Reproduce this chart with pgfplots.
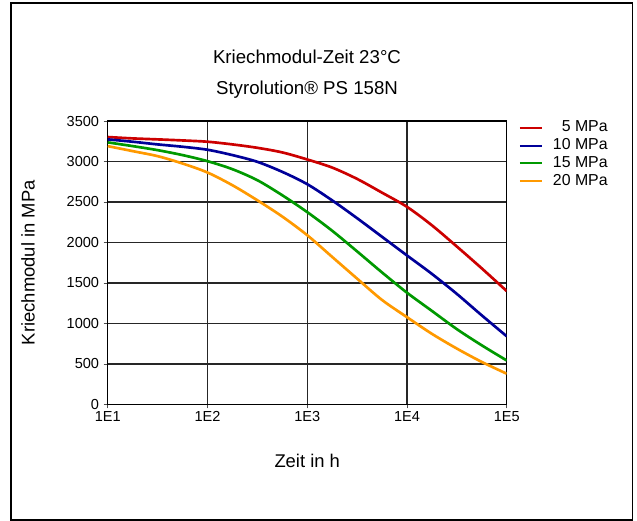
\documentclass[border=0pt]{standalone}
\usepackage{pgfplots}
\pgfplotsset{compat=1.18}
\usepackage{fontspec}
\setmainfont{Liberation Sans}
\definecolor{cred}{RGB}{204,0,0}
\definecolor{cblue}{RGB}{0,0,153}
\definecolor{cgreen}{RGB}{0,153,0}
\definecolor{corange}{RGB}{255,153,0}
\begin{document}
\begin{tikzpicture}
\useasboundingbox (0,0) rectangle (477.75pt,390.75pt);
\draw[line width=1.1pt] (8.25pt,0.75pt) rectangle (474.5pt,388.5pt);
\node[font=\fontsize{14}{17}\selectfont] at (230.25pt,348pt) {Kriechmodul-Zeit 23°C};
\node[font=\fontsize{14}{17}\selectfont] at (230.25pt,323.25pt) {Styrolution® PS 158N};
\begin{axis}[
  at={(80.8pt,87.4pt)}, anchor=south west,
  scale only axis, width=299.25pt, height=212.6pt,
  xmode=log, xmin=10, xmax=100000,
  ymin=0, ymax=3500,
  xtick={10,100,1000,10000,100000},
  xticklabels={1E1,1E2,1E3,1E4,1E5},
  xminorticks=false,
  ytick={0,500,1000,1500,2000,2500,3000,3500},
  /pgf/number format/assume math mode=true,
  /pgf/number format/1000 sep={},
  tick label style={font=\fontsize{10.9}{13}\selectfont},
  tick align=outside, tick pos=left,
  major tick length=3pt,
  every tick/.style={black!70, line width=0.6pt},
  grid=major,
  major grid style={black!85, line width=0.9pt},
  axis line style={black, line width=0.9pt},
  xlabel={Zeit in h}, ylabel={Kriechmodul in MPa},
  label style={font=\fontsize{13.8}{16}\selectfont},
  xlabel style={at={(axis description cs:0.5,-0.1993)}, anchor=center},
  ylabel style={at={(axis description cs:-0.1997,0.5)}, anchor=center},
  xticklabel style={yshift=1.2pt},
  legend cell align=right,
  legend style={at={(axis description cs:1.03,1.005)}, anchor=north west,
    draw=none, fill=none, font=\fontsize{11.9}{13}\selectfont,
    row sep=1.2pt, inner sep=0pt,
    nodes={inner sep=1.5pt, text height=7.6pt, text depth=1.5pt}},
  legend image code/.code={\draw[#1] plot coordinates {(0pt,0pt) (16.5pt,0pt)}; \path (22.5pt,0pt);},
  legend image post style={line width=1.5pt, sharp plot},
]
\addplot[cred, line width=2pt, smooth] coordinates {
(10,3302) (17.78,3285) (31.62,3273) (56.23,3260) (100,3244) (177.8,3211) (316.2,3169) (562.3,3112) (1000,3025) (1778,2925) (3162,2785) (5623,2615) (10000,2440) (17783,2212) (31623,1950) (56234,1680) (100000,1400)};
\addlegendentry{5 MPa}
\addplot[cblue, line width=2pt, smooth] coordinates {
(10,3273) (17.78,3244) (31.62,3211) (56.23,3182) (100,3145) (177.8,3079) (316.2,2996) (562.3,2872) (1000,2720) (1778,2520) (3162,2300) (5623,2070) (10000,1840) (17783,1612) (31623,1365) (56234,1100) (100000,842)};
\addlegendentry{10 MPa}
\addplot[cgreen, line width=2pt, smooth] coordinates {
(10,3236) (17.78,3190) (31.62,3140) (56.23,3079) (100,3004) (177.8,2905) (316.2,2769) (562.3,2583) (1000,2375) (1778,2145) (3162,1890) (5623,1630) (10000,1380) (17783,1155) (31623,930) (56234,730) (100000,543)};
\addlegendentry{15 MPa}
\addplot[corange, line width=2pt, smooth] coordinates {
(10,3190) (17.78,3128) (31.62,3066) (56.23,2975) (100,2864) (177.8,2707) (316.2,2521) (562.3,2320) (1000,2090) (1778,1822) (3162,1554) (5623,1290) (10000,1078) (17783,872) (31623,690) (56234,525) (100000,380)};
\addlegendentry{20 MPa}
\end{axis}
\end{tikzpicture}
\end{document}
